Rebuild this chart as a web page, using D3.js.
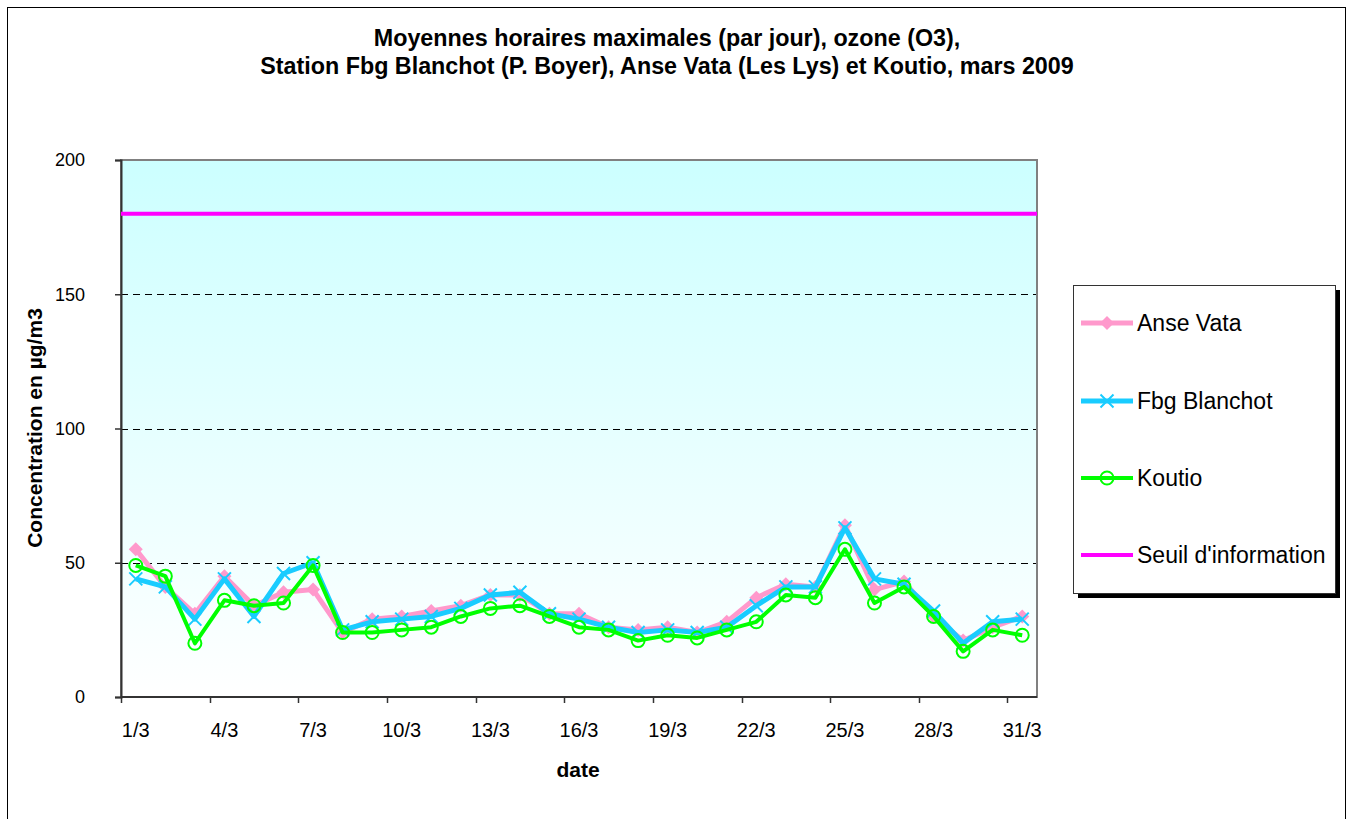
<!DOCTYPE html>
<html>
<head>
<meta charset="utf-8">
<script src="https://cdn.jsdelivr.net/npm/d3@7"></script>
<style>
  body { margin: 0; background: #fff; }
  svg { display: block; font-family: "Liberation Sans", Arial, sans-serif; }
</style>
</head>
<body>
<svg id="chart" width="1350" height="819"></svg>
<script>
// data
var days = [];
for (var i = 1; i <= 31; i++) days.push(i + "/3");

var anseVata = [55,41,31,45,34,39,40,24,29,30,32,34,38,38,31,31,26,25,26,24,28,37,42,41,64,40,43,30,21,26,30];
var fbgBlanchot = [44,41,29,44,30,46,50,25,28,29,30,33,38,39,31,29,26,24,25,24,26,34,41,41,63,44,42,32,20,28,29];
var koutio = [49,45,20,36,34,35,49,24,24,25,26,30,33,34,30,26,25,21,23,22,25,28,38,37,55,35,41,30,17,25,23];
var seuil = 180;

var yTicks = [0, 50, 100, 150, 200];
var gridTicks = [50, 100, 150];

var titleLines = [
  "Moyennes horaires maximales (par jour), ozone (O3),",
  "Station Fbg Blanchot (P. Boyer), Anse Vata (Les Lys) et Koutio, mars 2009"
];

var series = [
  {name: "Anse Vata", values: anseVata, color: "#ff99cc", width: 5, marker: "diamond"},
  {name: "Fbg Blanchot", values: fbgBlanchot, color: "#19ccff", width: 5, marker: "cross"},
  {name: "Koutio", values: koutio, color: "#00ff00", width: 4, marker: "circle"}
];

var svg = d3.select("#chart");
var plot = {left: 121, right: 1037, top: 160, bottom: 697};

var x = d3.scaleBand().domain(days).range([plot.left, plot.right]);
var y = d3.scaleLinear().domain([0, 200]).range([plot.bottom, plot.top]);
function cx(d, i) { return x(days[i]) + x.bandwidth() / 2; }

// outer frame
svg.append("rect").attr("x", 7.5).attr("y", 7.5).attr("width", 1338).attr("height", 840)
  .attr("fill", "#fff").attr("stroke", "#000").attr("stroke-width", 1);

// title
svg.append("g").selectAll("text").data(titleLines).enter().append("text")
  .attr("x", 667).attr("y", function(d, i) { return 46 + i * 28; })
  .attr("text-anchor", "middle").attr("font-weight", "bold").attr("font-size", "23.3px")
  .text(function(d) { return d; });

// plot background gradient
var grad = svg.append("defs").append("linearGradient").attr("id", "bg")
  .attr("x1", 0).attr("y1", 0).attr("x2", 0).attr("y2", 1);
grad.append("stop").attr("offset", "0%").attr("stop-color", "#ccffff");
grad.append("stop").attr("offset", "100%").attr("stop-color", "#ffffff");

svg.append("rect").attr("x", plot.left).attr("y", plot.top)
  .attr("width", plot.right - plot.left).attr("height", plot.bottom - plot.top)
  .attr("fill", "url(#bg)");

// grid
svg.append("g").selectAll("line").data(gridTicks).enter().append("line")
  .attr("x1", plot.left).attr("x2", plot.right)
  .attr("y1", function(d) { return Math.round(y(d)) + 0.5; })
  .attr("y2", function(d) { return Math.round(y(d)) + 0.5; })
  .attr("stroke", "#000").attr("stroke-width", 1).attr("stroke-dasharray", "7,5");

// plot border
svg.append("rect").attr("x", plot.left).attr("y", plot.top)
  .attr("width", plot.right - plot.left).attr("height", plot.bottom - plot.top)
  .attr("fill", "none").attr("stroke", "#808080").attr("stroke-width", 2);

// y axis
var yAxis = d3.axisLeft(y).tickValues(yTicks).tickSize(6).tickPadding(30);
var gy = svg.append("g").attr("transform", "translate(" + plot.left + ",0)").call(yAxis);
gy.select(".domain").attr("stroke", "#333").attr("stroke-width", 2);
gy.selectAll(".tick line").attr("stroke", "#333").attr("stroke-width", 1.5);
gy.selectAll(".tick text").attr("font-size", "18px").attr("fill", "#000")
  .attr("font-family", "Liberation Sans, Arial, sans-serif");

// x axis, ticks every 3 categories on the band edges
var xTickIdx = d3.range(0, 31, 3);
svg.append("line").attr("x1", plot.left).attr("x2", plot.right)
  .attr("y1", plot.bottom).attr("y2", plot.bottom).attr("stroke", "#333").attr("stroke-width", 2);
svg.append("g").selectAll("line").data(xTickIdx).enter().append("line")
  .attr("x1", function(i) { return Math.round(x(days[i])) + 0.5; })
  .attr("x2", function(i) { return Math.round(x(days[i])) + 0.5; })
  .attr("y1", plot.bottom).attr("y2", plot.bottom + 6)
  .attr("stroke", "#333").attr("stroke-width", 1.5);
svg.append("g").selectAll("text").data(xTickIdx).enter().append("text")
  .attr("x", function(i) { return x(days[i]) + x.bandwidth() / 2; })
  .attr("y", 737).attr("text-anchor", "middle").attr("font-size", "20px")
  .text(function(i) { return days[i]; });

// axis titles
svg.append("text").attr("x", 578).attr("y", 777).attr("text-anchor", "middle")
  .attr("font-weight", "bold").attr("font-size", "21px").text("date");
svg.append("text").attr("transform", "translate(42,428) rotate(-90)")
  .attr("text-anchor", "middle").attr("font-weight", "bold").attr("font-size", "21px")
  .text("Concentration en µg/m3");

// threshold
svg.append("line").attr("x1", plot.left).attr("x2", plot.right)
  .attr("y1", y(seuil)).attr("y2", y(seuil))
  .attr("stroke", "#ff00ff").attr("stroke-width", 4);

// markers
function drawMarker(g, type, color) {
  if (type === "diamond") {
    g.append("path").attr("d", "M0,-7L7,0L0,7L-7,0Z").attr("fill", color);
  } else if (type === "cross") {
    g.append("path").attr("d", "M-6.5,-6.5L6.5,6.5M-6.5,6.5L6.5,-6.5").attr("stroke", color)
      .attr("stroke-width", 2).attr("fill", "none");
  } else {
    g.append("circle").attr("r", 6.5).attr("fill", "none").attr("stroke", color).attr("stroke-width", 2);
  }
}

var line = d3.line().x(cx).y(function(d) { return y(d); });

series.forEach(function(s) {
  var g = svg.append("g");
  g.append("path").datum(s.values).attr("d", line)
    .attr("fill", "none").attr("stroke", s.color).attr("stroke-width", s.width)
    .attr("stroke-linejoin", "round");
  s.values.forEach(function(v, i) {
    var m = g.append("g").attr("transform", "translate(" + cx(v, i) + "," + y(v) + ")");
    drawMarker(m, s.marker, s.color);
  });
});

// legend
var leg = {x: 1073, y: 285, w: 262, h: 308};
svg.append("rect").attr("x", leg.x + 5).attr("y", leg.y + 5).attr("width", leg.w).attr("height", leg.h)
  .attr("fill", "#000");
svg.append("rect").attr("x", leg.x + 0.5).attr("y", leg.y + 0.5).attr("width", leg.w).attr("height", leg.h)
  .attr("fill", "#fff").attr("stroke", "#333").attr("stroke-width", 1);

var legItems = series.concat([{name: "Seuil d'information", color: "#ff00ff", width: 4, marker: null}]);
var legY = [323, 401, 478, 555];
legItems.forEach(function(s, i) {
  var g = svg.append("g").attr("transform", "translate(0," + legY[i] + ")");
  g.append("line").attr("x1", 1081).attr("x2", 1133).attr("y1", 0).attr("y2", 0)
    .attr("stroke", s.color).attr("stroke-width", s.width);
  if (s.marker) {
    var m = g.append("g").attr("transform", "translate(1107,0)");
    drawMarker(m, s.marker, s.color);
  }
  g.append("text").attr("x", 1137).attr("y", 8).attr("font-size", "23px").text(s.name);
});
</script>
</body>
</html>
